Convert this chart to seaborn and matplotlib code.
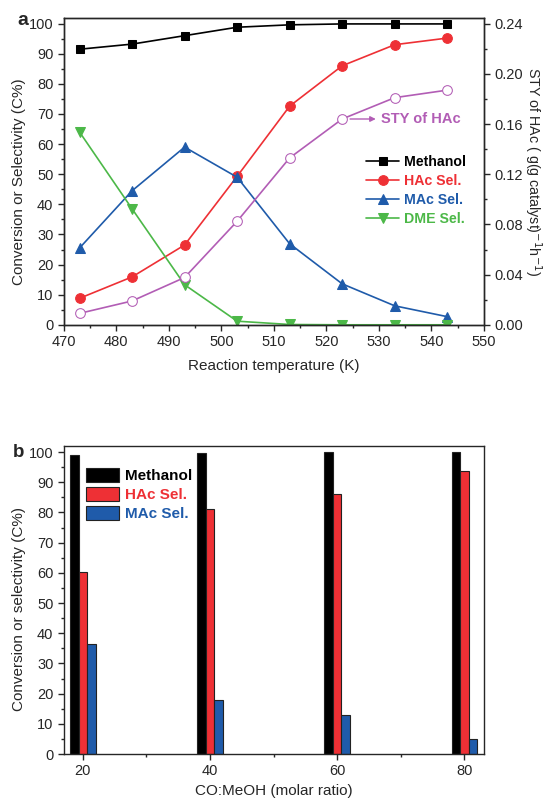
import pandas as pd
import matplotlib
matplotlib.use('Agg')
import matplotlib.pyplot as plt
import seaborn as sns
from matplotlib.patches import Patch
from matplotlib.ticker import MultipleLocator, FormatStrFormatter

sns.set_style('ticks')
plt.rcParams['font.family'] = ['Liberation Sans', 'DejaVu Sans']
plt.rcParams['xtick.direction'] = 'out'
plt.rcParams['ytick.direction'] = 'out'

# panel a: temperature series
temperaturas = [473, 483, 493, 503, 513, 523, 533, 543]
metanol = [91.5, 93.2, 96.0, 98.8, 99.6, 99.9, 99.9, 99.9]
hac_sel = [8.8, 15.9, 26.5, 49.3, 72.6, 86.0, 93.0, 95.2]
mac_sel = [25.5, 44.5, 59.0, 49.0, 26.9, 13.6, 6.3, 2.7]
dme_sel = [64.0, 38.5, 13.3, 1.2, 0.1, 0.0, 0.0, 0.0]
sty_hac = [0.0091, 0.019, 0.0377, 0.0825, 0.133, 0.164, 0.181, 0.187]

# panel b: CO:MeOH ratio series
ratios = [20, 40, 60, 80]
metanol_b = [99.0, 99.8, 100.0, 100.0]
hac_b = [60.3, 81.2, 86.2, 93.8]
mac_b = [36.5, 17.8, 13.0, 5.0]

NEGRO = '#000000'
ROJO = '#EE3035'
AZUL = '#1F5BAA'
VERDE = '#4CB848'
MORADO = '#B25DB5'

fig = plt.figure(figsize=(5.5, 8), dpi=100)
ax = fig.add_axes([0.116, 0.594, 0.764, 0.384])
ax_r = ax.twinx()

sns.lineplot(x=temperaturas, y=metanol, marker='s', color=NEGRO, markersize=6,
             markeredgecolor=NEGRO, linewidth=1.2, ax=ax, label='Methanol')
sns.lineplot(x=temperaturas, y=hac_sel, marker='o', color=ROJO, markersize=7,
             markeredgecolor=ROJO, linewidth=1.2, ax=ax, label='HAc Sel.')
sns.lineplot(x=temperaturas, y=mac_sel, marker='^', color=AZUL, markersize=7,
             markeredgecolor=AZUL, linewidth=1.2, ax=ax, label='MAc Sel.')
sns.lineplot(x=temperaturas, y=dme_sel, marker='v', color=VERDE, markersize=7,
             markeredgecolor=VERDE, linewidth=1.2, ax=ax, label='DME Sel.')
sns.lineplot(x=temperaturas, y=sty_hac, marker='o', color=MORADO, markersize=7,
             markerfacecolor='white', markeredgecolor=MORADO, linewidth=1.2, ax=ax_r,
             legend=False)

ax.set_xlim(470, 550)
ax.set_ylim(0, 102)
ax_r.set_ylim(0, 0.2448)
ax.xaxis.set_major_locator(MultipleLocator(10))
ax.xaxis.set_minor_locator(MultipleLocator(5))
ax.yaxis.set_major_locator(MultipleLocator(10))
ax.yaxis.set_minor_locator(MultipleLocator(5))
ax_r.yaxis.set_major_locator(MultipleLocator(0.04))
ax_r.yaxis.set_minor_locator(MultipleLocator(0.02))
ax_r.yaxis.set_major_formatter(FormatStrFormatter('%.2f'))
for a in (ax, ax_r):
    a.tick_params(which='both', labelsize=10.5, width=1)
    a.tick_params(which='major', length=4)
    a.tick_params(which='minor', length=2.5)
    for s in a.spines.values():
        s.set_linewidth(1)
ax.set_xlabel('Reaction temperature (K)', fontsize=11, labelpad=7)
ax.set_ylabel('Conversion or Selectivity (C%)', fontsize=11)
ax.yaxis.set_label_coords(-0.09, 0.465)
ax_r.set_ylabel('STY of HAc ( g(g catalyst)$^{-1}$h$^{-1}$)', fontsize=10.3,
                rotation=270, labelpad=15)
ax.legend(loc='upper left', bbox_to_anchor=(0.69, 0.593), frameon=False,
          handlelength=2.3, labelspacing=0.34, handletextpad=0.35,
          labelcolor=[NEGRO, ROJO, AZUL, VERDE],
          prop={'weight': 'bold', 'size': 10.2})
# flecha hacia la etiqueta de STY
ax_r.annotate('', xy=(529.4, 0.164), xytext=(524.5, 0.164),
              arrowprops=dict(arrowstyle='-|>', color=MORADO, lw=1,
                              shrinkA=0, shrinkB=0, mutation_scale=8))
ax_r.text(530.4, 0.164, 'STY of HAc', color=MORADO, fontsize=10.5,
          fontweight='bold', va='center')
fig.text(0.031, 0.974, 'a', fontsize=14, fontweight='bold', va='center')

# panel b
ax2 = fig.add_axes([0.116, 0.0575, 0.764, 0.385])
tabla = pd.DataFrame({
    'ratio': ratios * 3,
    'valor': metanol_b + hac_b + mac_b,
    'serie': ['Methanol'] * 4 + ['HAc Sel.'] * 4 + ['MAc Sel.'] * 4,
})
sns.barplot(data=tabla, x='ratio', y='valor', hue='serie', native_scale=True,
            width=0.2, palette=[NEGRO, ROJO, AZUL], edgecolor='#222222',
            linewidth=0.8, saturation=1, ax=ax2, legend=False)
ax2.set_xlim(17, 83.1)
ax2.set_ylim(0, 102)
ax2.set_xticks(ratios)
ax2.xaxis.set_minor_locator(MultipleLocator(10))
ax2.yaxis.set_major_locator(MultipleLocator(10))
ax2.yaxis.set_minor_locator(MultipleLocator(5))
ax2.tick_params(which='both', labelsize=10.5, width=1)
ax2.tick_params(which='major', length=4)
ax2.tick_params(which='minor', length=2.5)
for s in ax2.spines.values():
    s.set_linewidth(1)
ax2.set_xlabel('CO:MeOH (molar ratio)', fontsize=11)
ax2.set_ylabel('Conversion or selectivity (C%)', fontsize=11)
ax2.yaxis.set_label_coords(-0.09, 0.47)
handles = [Patch(facecolor=c, edgecolor='#222222', linewidth=0.8)
           for c in (NEGRO, ROJO, AZUL)]
leg = ax2.legend(handles, ['Methanol', 'HAc Sel.', 'MAc Sel.'], loc='upper left',
                 bbox_to_anchor=(0.02, 0.973), frameon=False, handlelength=2.15,
                 handleheight=1.0, labelspacing=0.26, handletextpad=0.4,
                 labelcolor=[NEGRO, ROJO, AZUL], prop={'weight': 'bold', 'size': 11})
leg.set_zorder(5)
fig.text(0.024, 0.434, 'b', fontsize=13.5, fontweight='bold', va='center')

fig.savefig('out.png', dpi=100)
